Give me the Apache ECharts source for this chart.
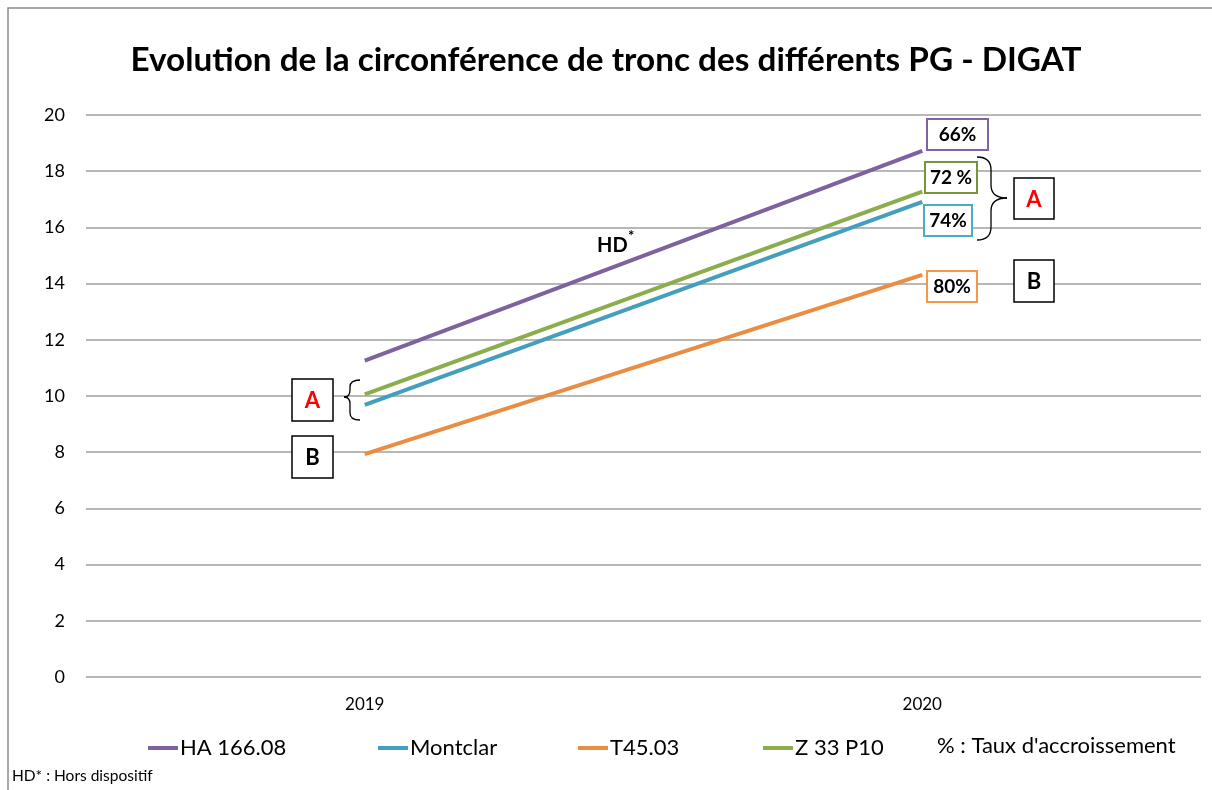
<!DOCTYPE html>
<html>
<head>
<meta charset="utf-8">
<script src="https://cdn.jsdelivr.net/npm/echarts@6/dist/echarts.min.js"></script>
<style>
html,body{margin:0;padding:0;background:#fff;}
#main{width:1212px;height:790px;}
</style>
</head>
<body>
<div id="main"></div>
<script>
// ---- data ----
const categories = ['2019', '2020'];
const seriesNames = ['HA 166.08', 'Montclar', 'T45.03', 'Z 33 P10'];
const haValues = [11.26, 18.72];
const montclarValues = [9.68, 16.91];
const t45Values = [7.93, 14.31];
const z33Values = [10.06, 17.27];
const growthRates = ['66%', '74%', '80%', '72 %'];
const yMin = 0, yMax = 20, yInterval = 2;

const FONT = 'Lato';
const colors = ['#7E62A0', '#449FBC', '#EA8C42', '#8BAD4C'];
const boxColors = ['#8064A2', '#4BACC6', '#F79646', '#77933C'];

const chart = echarts.init(document.getElementById('main'));

function pctBox(x, y, w, h, stroke, txt) {
  return [
    {type: 'rect', shape: {x: x, y: y, width: w, height: h}, style: {fill: '#fff', stroke: stroke, lineWidth: 2}, z: 10},
    {type: 'text', x: x + w / 2, y: y + h / 2, style: {text: txt, font: 'bold 19px ' + FONT, fill: '#000', align: 'center', verticalAlign: 'middle'}, z: 11}
  ];
}
function letterBox(x, y, w, h, txt, color) {
  return [
    {type: 'rect', shape: {x: x, y: y, width: w, height: h}, style: {fill: '#fff', stroke: '#000', lineWidth: 1.5}, z: 10},
    {type: 'text', x: x + w / 2, y: y + h / 2 + 1, style: {text: txt, font: 'bold 22px ' + FONT, fill: color, align: 'center', verticalAlign: 'middle'}, z: 11}
  ];
}
// curly brace: x0 = open end x, xs = stem x, xt = tip x, y0 top, ym middle, y1 bottom, r = curl radius
function brace(x0, xs, xt, y0, ym, y1, r) {
  const st = {fill: 'none', stroke: '#000', lineWidth: 1.3};
  const q = (a, b, c, d, e, f) => ({type: 'bezierCurve', shape: {x1: a, y1: b, cpx1: c, cpy1: d, x2: e, y2: f}, style: st, z: 10});
  const l = (a, b, c, d) => ({type: 'line', shape: {x1: a, y1: b, x2: c, y2: d}, style: st, z: 10});
  return [
    q(x0, y0, xs, y0, xs, y0 + r),
    l(xs, y0 + r, xs, ym - r),
    q(xs, ym - r, xs, ym, xt, ym),
    q(xt, ym, xs, ym, xs, ym + r),
    l(xs, ym + r, xs, y1 - r),
    q(xs, y1 - r, xs, y1, x0, y1)
  ];
}

const graphics = [].concat(
  [{type: 'rect', shape: {x: 8, y: 8, width: 1230, height: 800}, style: {fill: 'none', stroke: '#8c8c8c', lineWidth: 1.5}, z: 1}],
  pctBox(927, 119, 61, 31, boxColors[0], growthRates[0]),
  pctBox(925, 162, 52, 31, boxColors[3], growthRates[3]),
  pctBox(924, 205, 48, 31, boxColors[1], growthRates[1]),
  pctBox(927, 271, 50, 31, boxColors[2], growthRates[2]),
  letterBox(1014, 178, 40, 41, 'A', '#FF0000'),
  letterBox(1014, 260, 40, 42, 'B', '#000'),
  letterBox(292, 379, 41, 42, 'A', '#FF0000'),
  letterBox(292, 436, 41, 42, 'B', '#000'),
  brace(977, 991, 1007, 157, 198, 240, 13),
  brace(360, 350, 344, 380, 397, 420, 7),
  [
    {type: 'text', x: 597, y: 246, style: {text: 'HD', font: 'bold 20px ' + FONT, fill: '#000', verticalAlign: 'middle'}, z: 11},
    {type: 'text', x: 628, y: 236, style: {text: '*', font: 'bold 15px ' + FONT, fill: '#000', verticalAlign: 'middle'}, z: 11},
    {type: 'text', x: 937, y: 746, style: {text: "% : Taux d'accroissement", font: '22px ' + FONT, fill: '#000', verticalAlign: 'middle'}, z: 11},
    {type: 'text', x: 12, y: 776, style: {text: 'HD* : Hors dispositif', font: '15.5px ' + FONT, fill: '#000', verticalAlign: 'middle'}, z: 11}
  ]
);

const legendLefts = [143, 373, 573, 758];
const allValues = [haValues, montclarValues, t45Values, z33Values];

chart.setOption({
  animation: false,
  backgroundColor: '#fff',
  title: {
    text: 'Evolution de la circonférence de tronc des différents PG - DIGAT',
    left: 'center',
    top: 39,
    textStyle: {fontFamily: FONT, fontWeight: 'bold', fontSize: 33.3, color: '#000'}
  },
  legend: seriesNames.map((n, i) => ({
    data: [n],
    left: legendLefts[i],
    top: 732,
    icon: 'rect',
    itemWidth: 30,
    itemHeight: 4,
    textStyle: {fontFamily: FONT, fontSize: 22, color: '#000', padding: [0, 0, 0, -3]},
    selectedMode: false
  })),
  grid: {left: 86, right: 11, top: 115, bottom: 113, containLabel: false},
  xAxis: {
    type: 'category',
    data: categories,
    boundaryGap: true,
    axisLine: {show: false},
    axisTick: {show: false},
    axisLabel: {fontFamily: FONT, fontSize: 17, color: '#000', margin: 19}
  },
  yAxis: {
    type: 'value',
    min: yMin, max: yMax, interval: yInterval,
    axisLine: {show: false},
    axisTick: {show: false},
    axisLabel: {fontFamily: FONT, fontSize: 18, color: '#000', margin: 21},
    splitLine: {lineStyle: {color: '#A0A0A0', width: 1.5}}
  },
  series: seriesNames.map((n, i) => ({
    name: n,
    type: 'line',
    data: allValues[i],
    showSymbol: false,
    symbol: 'none',
    lineStyle: {color: colors[i], width: 4},
    itemStyle: {color: colors[i]},
    z: 3
  })),
  graphic: graphics
});
</script>
</body>
</html>
